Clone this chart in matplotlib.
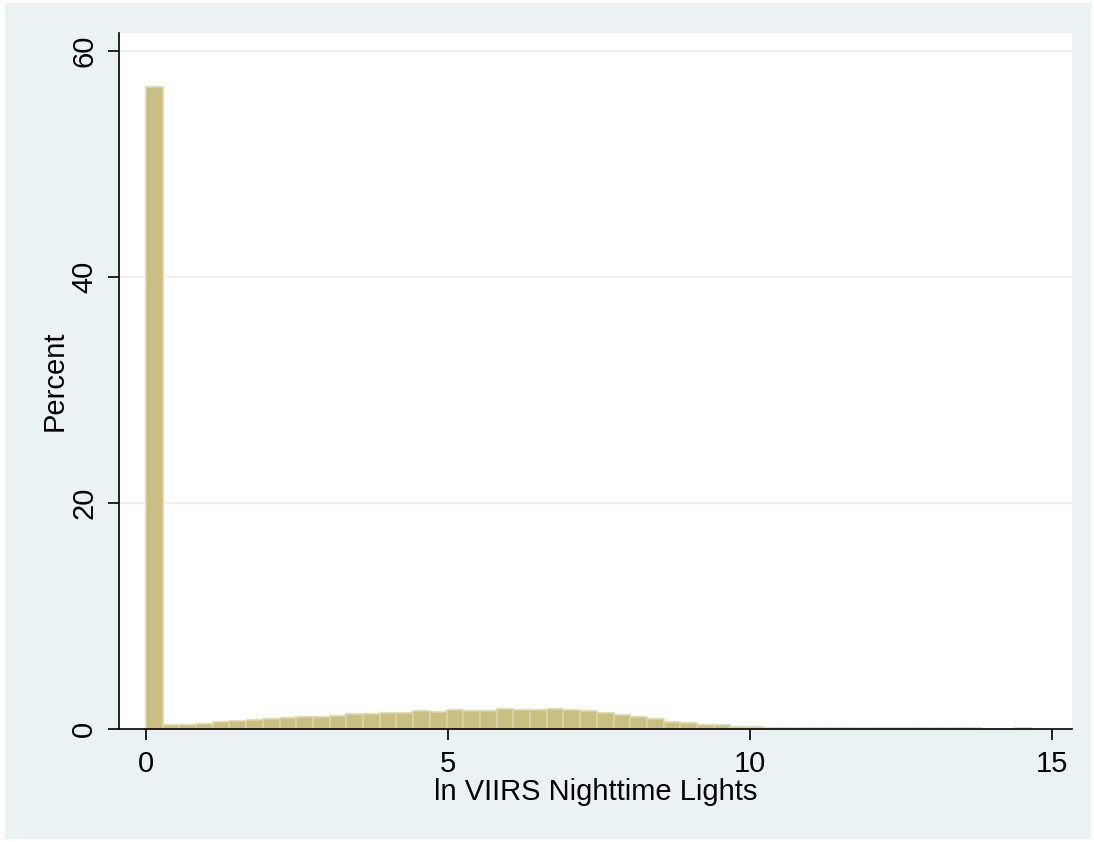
import numpy as np
import matplotlib.pyplot as plt
from matplotlib.patches import Rectangle

plt.rcParams["font.family"] = ["Liberation Sans", "DejaVu Sans"]

# histogram of log nighttime lights, percent per bin (bin width ~0.2765)
bin_width = 14.65 / 53
percent = [
    56.8, 0.32, 0.38, 0.47, 0.62, 0.71, 0.80, 0.91, 1.00, 1.03,
    1.09, 1.12, 1.33, 1.30, 1.42, 1.39, 1.56, 1.53, 1.65, 1.62,
    1.62, 1.74, 1.71, 1.71, 1.80, 1.65, 1.62, 1.39, 1.24, 1.06,
    0.86, 0.62, 0.50, 0.38, 0.32, 0.21, 0.15, 0.13, 0.12, 0.11,
    0.10, 0.10, 0.10, 0.10, 0.10, 0.10, 0.10, 0.10, 0.10, 0.10,
    0.0, 0.0, 0.10,
]
xticks = [0, 5, 10, 15]
yticks = [0, 20, 40, 60]

bg = "#eaf2f3"
fig = plt.figure(figsize=(10.94, 8.42), dpi=100, facecolor="white")
fig.patches.append(Rectangle((5 / 1094, 3 / 842), 1086 / 1094, 836 / 842,
                             transform=fig.transFigure, facecolor=bg,
                             edgecolor="none", zorder=-1))

ax = fig.add_axes([119 / 1094, 1 - 729 / 842, (1072 - 119) / 1094, (729 - 33) / 842])
ax.set_facecolor("white")

left_edges = np.arange(len(percent)) * bin_width
ax.bar(left_edges, percent, width=bin_width, align="edge",
       color="#c8bf80", edgecolor="#dbd5a6", linewidth=1.1, zorder=2)

ax.set_xlim(-0.447, 15.33)
ax.set_ylim(0, 61.6)
ax.set_xticks(xticks)
ax.set_yticks(yticks)
ax.set_yticklabels([str(t) for t in yticks], rotation=90, va="center")
ax.grid(axis="y", color=bg, linewidth=1.6, zorder=0)
ax.set_axisbelow(True)

for side in ["top", "right"]:
    ax.spines[side].set_visible(False)
for side in ["left", "bottom"]:
    ax.spines[side].set_linewidth(1.2)
    ax.spines[side].set_zorder(3)

ax.tick_params(axis="both", length=8, width=1.2, labelsize=21, pad=7)
ax.set_xlabel("ln VIIRS Nighttime Lights", fontsize=21, labelpad=0)
ax.set_ylabel("Percent", fontsize=21, labelpad=1)

fig.savefig("out.png", dpi=100, facecolor=fig.get_facecolor())
